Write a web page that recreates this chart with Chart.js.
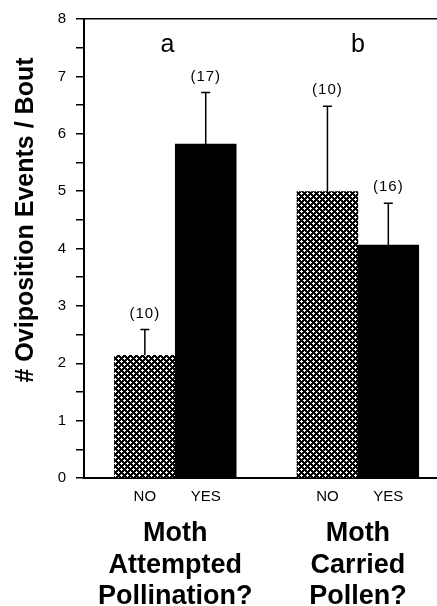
<!DOCTYPE html>
<html><head><meta charset="utf-8">
<script src="https://cdn.jsdelivr.net/npm/chart.js@4.4.0/dist/chart.umd.min.js"></script>
<style>html,body{margin:0;padding:0;background:#fff}#wrap{width:437px;height:606px;position:relative}</style>
</head><body><div id="wrap"><canvas id="c"></canvas></div>
<script>
// ---- data ----
const categories = ['NO', 'YES', 'NO', 'YES'];
const xPositions = [0, 1, 3, 4];
const groupLabels = [['Moth', 'Attempted', 'Pollination?'], ['Moth', 'Carried', 'Pollen?']];
const groupPositions = [0.5, 3.5];
const means = [2.14, 5.82, 4.99, 4.06];
const errorTops = [2.59, 6.72, 6.48, 4.79];
const sampleSizes = ['(10)', '(17)', '(10)', '(16)'];
const letters = ['a', 'b'];
const letterPositions = [0.37, 3.5];
const letterLevel = 7.42;
const yTickValues = [0, 0.5, 1, 1.5, 2, 2.5, 3, 3.5, 4, 4.5, 5, 5.5, 6, 6.5, 7, 7.5, 8];
const yTitle = '# Oviposition Events / Bout';

const FAMILY = '"Liberation Sans", Arial, Helvetica, sans-serif';

function makePattern(ctx) {
  const c = document.createElement('canvas');
  c.width = 6; c.height = 6;
  const g = c.getContext('2d');
  g.fillStyle = '#000'; g.fillRect(0, 0, 6, 6);
  g.fillStyle = '#fff';
  [[1, 1], [4, 4]].forEach(([cx, cy]) => {
    g.fillRect(cx, cy - 1, 1, 3);
    g.fillRect(cx - 1, cy, 3, 1);
  });
  return ctx.createPattern(c, 'repeat');
}

const canvas = document.getElementById('c');
const ctx0 = canvas.getContext('2d');
const hatch = makePattern(ctx0);

const annot = {
  id: 'annot',
  afterDatasetsDraw(chart) {
    const { ctx, scales: { x, y } } = chart;
    ctx.save();
    ctx.strokeStyle = '#000';
    ctx.fillStyle = '#000';
    ctx.lineWidth = 1.5;
    xPositions.forEach((xv, i) => {
      const px = x.getPixelForValue(xv);
      const top = y.getPixelForValue(errorTops[i]);
      const base = y.getPixelForValue(means[i]);
      ctx.beginPath();
      ctx.moveTo(px, base); ctx.lineTo(px, top);
      ctx.moveTo(px - 4.5, top); ctx.lineTo(px + 4.5, top);
      ctx.stroke();
      ctx.font = '15px ' + FAMILY;
      ctx.letterSpacing = '1px';
      ctx.textAlign = 'center';
      ctx.textBaseline = 'middle';
      ctx.fillText(sampleSizes[i], px, top - 16);
    });
    ctx.letterSpacing = '0px';
    ctx.font = '25px ' + FAMILY;
    ctx.textAlign = 'center';
    ctx.textBaseline = 'alphabetic';
    letters.forEach((l, i) => {
      ctx.fillText(l, x.getPixelForValue(letterPositions[i]), y.getPixelForValue(letterLevel));
    });
    // y-axis title
    ctx.translate(33, 220);
    ctx.rotate(-Math.PI / 2);
    ctx.font = 'bold 25px ' + FAMILY;
    ctx.textAlign = 'center';
    ctx.textBaseline = 'alphabetic';
    ctx.fillText(yTitle, 0, 0);
    ctx.restore();
  }
};

new Chart(canvas, {
  type: 'bar',
  data: {
    datasets: [{
      data: xPositions.map((xv, i) => ({ x: xv, y: means[i] })),
      backgroundColor: categories.map(c => c === 'NO' ? hatch : '#000'),
      borderWidth: 0,
      barPercentage: 1,
      categoryPercentage: 1
    }]
  },
  options: {
    animation: false,
    responsive: true,
    maintainAspectRatio: false,
    layout: { padding: { top: 15, right: 0, left: 0, bottom: 0 } },
    plugins: { legend: { display: false }, tooltip: { enabled: false } },
    scales: {
      x: {
        type: 'linear', min: -1, max: 4.8, position: 'bottom', weight: 0, offset: false,
        afterBuildTicks(s) { s.ticks = xPositions.map(v => ({ value: v })); },
        afterFit(s) { s.height = 30; },
        ticks: {
          callback: (v) => { const k = xPositions.indexOf(v); return k >= 0 ? categories[k] : ''; },
          font: { size: 15, family: FAMILY }, color: '#000', padding: 10, maxRotation: 0, autoSkip: false
        },
        grid: { display: false, drawTicks: false },
        border: { display: true, color: '#000', width: 2 }
      },
      x2: {
        type: 'linear', min: -1, max: 4.8, position: 'bottom', weight: 1, offset: false,
        afterBuildTicks(s) { s.ticks = groupPositions.map(v => ({ value: v })); },
        afterFit(s) { s.height = 98; },
        ticks: {
          callback: (v) => { const k = groupPositions.indexOf(v); return k >= 0 ? groupLabels[k] : ''; },
          font: { size: 27, weight: 'bold', family: FAMILY, lineHeight: 1.17 }, color: '#000', padding: 10,
          maxRotation: 0, autoSkip: false
        },
        grid: { display: false, drawTicks: false },
        border: { display: false }
      },
      y: {
        min: 0, max: 8,
        afterFit(s) { s.width = 84; },
        afterBuildTicks(s) { s.ticks = yTickValues.map(v => ({ value: v })); },
        ticks: {
          callback: v => Number.isInteger(v) ? String(v) : '',
          font: { size: 15, family: FAMILY }, color: '#000', padding: 10, autoSkip: false
        },
        grid: {
          color: c => (c.tick && c.tick.value === 8) ? '#000' : 'rgba(0,0,0,0)',
          tickColor: '#000', tickLength: 8, lineWidth: 1.5, tickWidth: 1.5, drawTicks: true
        },
        border: { display: true, color: '#000', width: 2 }
      }
    }
  },
  plugins: [annot]
});
</script>
</body></html>
